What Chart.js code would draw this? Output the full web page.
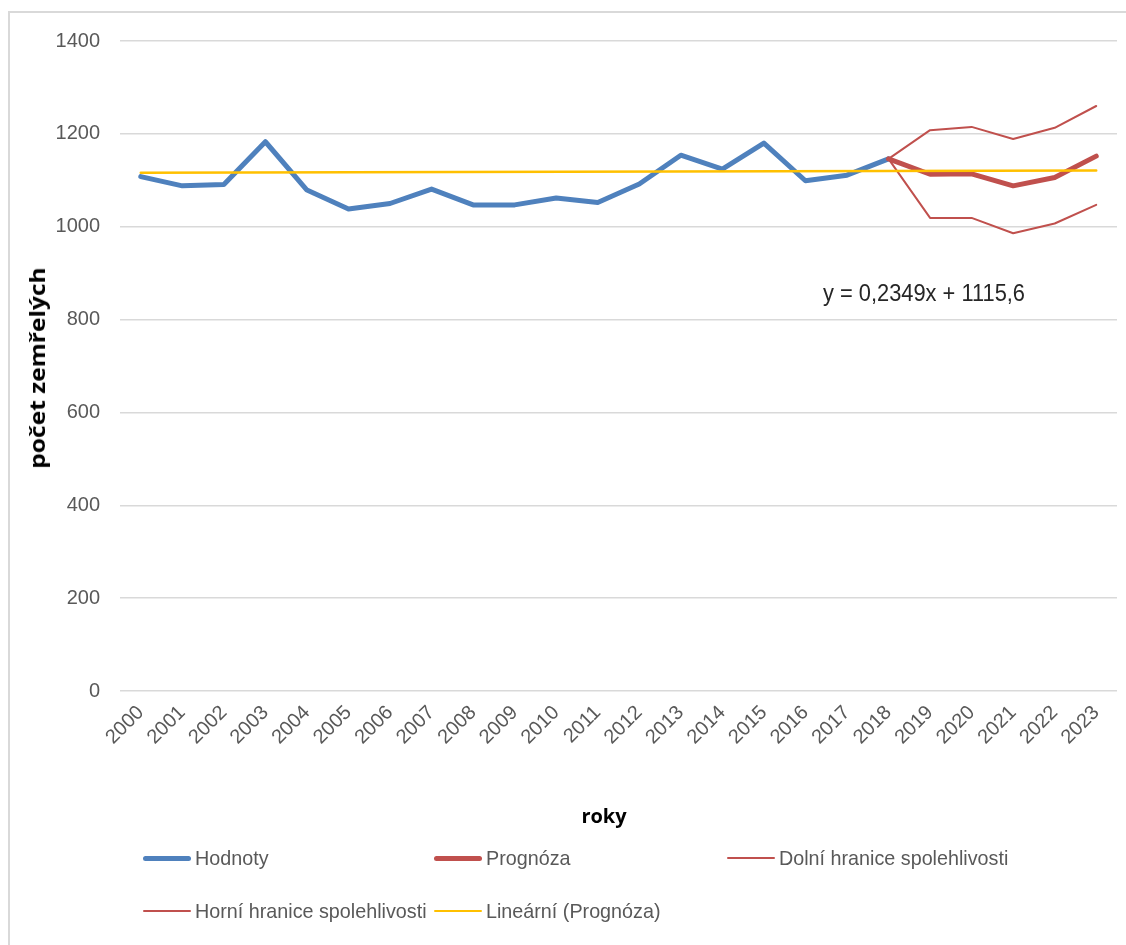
<!DOCTYPE html>
<html>
<head>
<meta charset="utf-8">
<script src="https://cdn.jsdelivr.net/npm/chart.js@4/dist/chart.umd.min.js"></script>
<style>
  html, body { margin: 0; padding: 0; background: #fff; }
  #wrap { position: relative; width: 1126px; height: 945px; overflow: hidden; background: #fff; }
  #frame { position: absolute; left: 8px; top: 11px; width: 1130px; height: 950px;
           border-left: 2px solid #d9d9d9; border-top: 2px solid #d9d9d9; }
  canvas { position: absolute; left: 0; top: 0; }
  .ytitle { position: absolute; left: 37px; top: 368px; transform: translate(-50%, -50%) rotate(-90deg) scaleX(1.17);
            font-family: "Open Sans", sans-serif; font-weight: bold; font-size: 21px; color: #000; white-space: nowrap; }
  .xtitle { position: absolute; left: 604px; top: 815px; transform: translate(-50%, -50%);
            font-family: "Open Sans", sans-serif; font-weight: bold; font-size: 20px; color: #000; }
  .eq { position: absolute; left: 924px; top: 293px; transform: translate(-50%, -50%) scaleX(0.91);
        font-family: "Liberation Sans", sans-serif; font-size: 24px; color: #262626; white-space: nowrap; }
  .leg { position: absolute; display: flex; align-items: center; transform: translateY(-50%);
         font-family: "Liberation Sans", sans-serif; font-size: 21px; color: #595959; white-space: nowrap; }
  .sw { display: inline-block; width: 48px; margin-right: 4px; border-radius: 3px; }
  .lt { display: inline-block; transform-origin: left center; transform: scaleX(0.94); }
</style>
</head>
<body>
<div id="wrap">
  <div id="frame"></div>
  <canvas id="c" width="1126" height="945"></canvas>
  <div class="ytitle">počet zemřelých</div>
  <div class="xtitle">roky</div>
  <div class="eq">y = 0,2349x + 1115,6</div>
  <div id="legend"></div>
</div>
<script>
const years = ["2000","2001","2002","2003","2004","2005","2006","2007","2008","2009","2010","2011",
               "2012","2013","2014","2015","2016","2017","2018","2019","2020","2021","2022","2023"];
const hodnoty = [1108,1088,1091,1183,1079,1038,1050,1081,1047,1047,1062,1052,
                 1092,1154,1124,1180,1099,1111,1146,null,null,null,null,null];
const prognoza = [null,null,null,null,null,null,null,null,null,null,null,null,
                  null,null,null,null,null,null,1146,1113,1114,1088,1106,1152];
const dolni = [null,null,null,null,null,null,null,null,null,null,null,null,
               null,null,null,null,null,null,1146,1019,1019,986,1007,1047];
const horni = [null,null,null,null,null,null,null,null,null,null,null,null,
               null,null,null,null,null,null,1146,1208,1215,1189,1213,1260];
const trend = [1116,null,null,null,null,null,null,null,null,null,null,null,
               null,null,null,null,null,null,null,null,null,null,null,1121];
const yTicks = [0,200,400,600,800,1000,1200,1400];

const blue = "#4f81bd", red = "#c0504d", gold = "#ffc000";
const fontFam = '"Liberation Sans", sans-serif';

new Chart(document.getElementById("c"), {
  type: "line",
  data: {
    labels: years,
    datasets: [
      { label: "Hodnoty", data: hodnoty, borderColor: blue, borderWidth: 5, order: 3 },
      { label: "Prognóza", data: prognoza, borderColor: red, borderWidth: 5, order: 2 },
      { label: "Dolní hranice spolehlivosti", data: dolni, borderColor: red, borderWidth: 2, order: 2 },
      { label: "Horní hranice spolehlivosti", data: horni, borderColor: red, borderWidth: 2, order: 2 },
      { label: "Lineární (Prognóza)", data: trend, borderColor: gold, borderWidth: 2.5, spanGaps: true, order: 1 }
    ]
  },
  options: {
    responsive: false,
    animation: false,
    devicePixelRatio: 1,
    elements: {
      point: { radius: 0, hoverRadius: 0 },
      line: { tension: 0, borderJoinStyle: "round", borderCapStyle: "round", fill: false }
    },
    layout: { padding: { left: 0, right: 9, top: 41, bottom: 0 } },
    plugins: { legend: { display: false }, tooltip: { enabled: false } },
    scales: {
      x: {
        offset: true,
        grid: { display: false, drawTicks: false },
        border: { display: false },
        ticks: { autoSkip: false, minRotation: 45, maxRotation: 45, padding: 10,
                 color: "#595959", font: { family: fontFam, size: 20 } },
        afterFit: s => { s.height = 254; }
      },
      y: {
        min: 0, max: 1400,
        afterBuildTicks: s => { s.ticks = yTicks.map(v => ({ value: v })); },
        grid: { color: "#d9d9d9", lineWidth: 1.5, drawTicks: false },
        border: { display: false },
        ticks: { padding: 20, color: "#595959", font: { family: fontFam, size: 20 },
                 callback: v => String(v) },
        afterFit: s => { s.width = 120; }
      }
    }
  }
});

const legendItems = [
  { text: "Hodnoty", color: blue, w: 5, x: 143, y: 858 },
  { text: "Prognóza", color: red, w: 5, x: 434, y: 858 },
  { text: "Dolní hranice spolehlivosti", color: red, w: 2.5, x: 727, y: 858 },
  { text: "Horní hranice spolehlivosti", color: red, w: 2.5, x: 143, y: 911 },
  { text: "Lineární (Prognóza)", color: gold, w: 2.5, x: 434, y: 911 }
];
const lg = document.getElementById("legend");
legendItems.forEach(it => {
  const d = document.createElement("div");
  d.className = "leg";
  d.style.left = it.x + "px";
  d.style.top = it.y + "px";
  const sw = document.createElement("span");
  sw.className = "sw";
  sw.style.height = it.w + "px";
  sw.style.background = it.color;
  d.appendChild(sw);
  const t = document.createElement("span");
  t.className = "lt";
  t.textContent = it.text;
  d.appendChild(t);
  lg.appendChild(d);
});
</script>
</body>
</html>
